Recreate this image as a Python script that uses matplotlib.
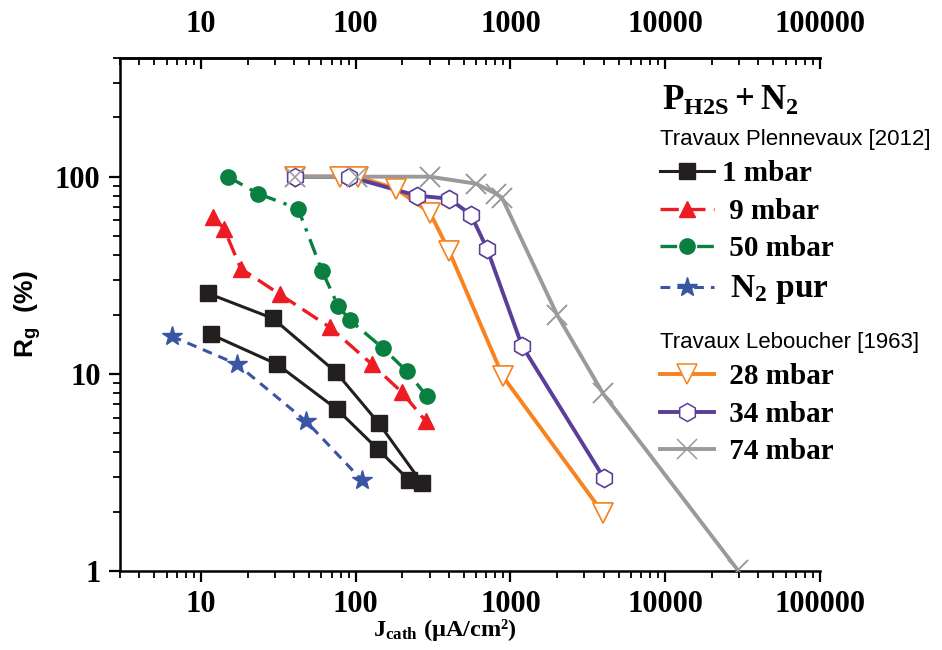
import matplotlib
matplotlib.use('Agg')
import matplotlib.pyplot as plt
from matplotlib.font_manager import FontProperties
from matplotlib.ticker import FixedLocator, FuncFormatter, LogLocator, NullFormatter

plt.rcParams['mathtext.fontset'] = 'custom'
plt.rcParams['mathtext.rm'] = 'Liberation Serif:bold'
plt.rcParams['mathtext.bf'] = 'Liberation Serif:bold'
plt.rcParams['mathtext.it'] = 'Liberation Serif:bold'

# ---- data (J_cath in uA/cm2, Rg in %) ----
j_1mbar_a = [11.1, 29.2, 74.6, 141, 268]
rg_1mbar_a = [25.6, 19.1, 10.2, 5.62, 2.79]
j_1mbar_b = [11.6, 31.0, 75.7, 139, 221]
rg_1mbar_b = [15.85, 11.2, 6.61, 4.15, 2.89]
j_9 = [12.0, 14.1, 18.1, 32.4, 68.3, 127, 199, 284]
rg_9 = [62.7, 54.5, 34.2, 25.3, 17.2, 11.2, 8.06, 5.75]
j_50 = [14.95, 23.4, 42.4, 60.5, 76.8, 91.9, 150, 214, 289]
rg_50 = [100, 82, 68.9, 33.4, 22.2, 18.7, 13.5, 10.3, 7.69]
j_n2 = [6.5, 17.1, 47.8, 109.6]
rg_n2 = [15.5, 11.2, 5.75, 2.89]
j_28 = [40.5, 79.1, 103, 182, 302, 400, 893, 3955]
rg_28 = [100, 100, 100, 86.9, 65.7, 42.2, 9.71, 1.97]
j_34 = [40.5, 90.4, 249, 400, 555, 705, 1186, 4018]
rg_34 = [100, 100, 80.1, 77.4, 64.2, 43.2, 13.9, 2.96]
j_74 = [40.5, 102, 302, 598, 805, 881, 1996, 3955, 29450]
rg_74 = [100, 100, 100, 92.2, 82, 78.3, 20, 7.97, 1.01]

x_ticks = [10, 100, 1000, 10000, 100000]
y_ticks = [1, 10, 100]

labels_plen = ['1 mbar', ' 9 mbar', ' 50 mbar', r' $\mathbf{N_2}$ pur']
labels_leb = [' 28 mbar', ' 34 mbar', ' 74 mbar']

c_black = '#231f20'
c_red = '#ed1c24'
c_green = '#0a8040'
c_blue = '#3a55a4'
c_orange = '#f7821e'
c_purple = '#5b3e99'
c_gray = '#9a9a9a'

fig = plt.figure(figsize=(9.42, 6.5), dpi=100)
ax = fig.add_axes([120/942, 79/650, 700/942, 513/650])

# Leboucher series (lines + markers, then marker overlays on top)
l28, = ax.plot(j_28, rg_28, color=c_orange, lw=2.8, marker='v', ms=14,
               mfc='white', mec=c_orange, mew=1.1, zorder=2.0)
l34, = ax.plot(j_34, rg_34, color=c_purple, lw=2.8, marker='h', ms=13,
               mfc='white', mec=c_purple, mew=1.1, zorder=2.1)
l74, = ax.plot(j_74, rg_74, color=c_gray, lw=2.8, marker='x', ms=14,
               mec=c_gray, mew=1.1, zorder=2.2)
ax.plot(j_28, rg_28, ls='none', marker='v', ms=14, mfc='white', mec=c_orange, mew=1.1, zorder=3.0)
ax.plot(j_34, rg_34, ls='none', marker='h', ms=13, mfc='white', mec=c_purple, mew=1.1, zorder=3.1)
ax.plot(j_74, rg_74, ls='none', marker='x', ms=14, mec=c_gray, mew=1.1, zorder=3.2)

# Plennevaux series
l1, = ax.plot(j_1mbar_a, rg_1mbar_a, color=c_black, lw=2.2, marker='s', ms=11,
              mfc=c_black, mec=c_black, zorder=4)
ax.plot(j_1mbar_b, rg_1mbar_b, color=c_black, lw=2.2, marker='s', ms=11,
        mfc=c_black, mec=c_black, zorder=4)
l9, = ax.plot(j_9, rg_9, color=c_red, lw=2.4, ls=(0, (5.5, 2.5)), marker='^', ms=12,
              mfc=c_red, mec=c_red, zorder=4)
l50, = ax.plot(j_50, rg_50, color=c_green, lw=2.4, ls=(0, (5, 2.5, 1, 2.5)), marker='o', ms=11,
               mfc=c_green, mec=c_green, zorder=4)
ln2, = ax.plot(j_n2, rg_n2, color=c_blue, lw=2.2, ls=(0, (3.2, 2.3)), marker='*', ms=15,
               mfc=c_blue, mec=c_blue, zorder=4)

ax.set_xscale('log')
ax.set_yscale('log')
ax.set_xlim(3, 100000)
ax.set_ylim(1, 400)

tick_font = dict(family='Liberation Serif', weight='bold', size=22)
fmt = FuncFormatter(lambda v, p: '%d' % round(v))

ax.xaxis.set_major_locator(FixedLocator(x_ticks))
ax.xaxis.set_major_formatter(fmt)
ax.xaxis.set_minor_locator(LogLocator(base=10, subs=range(2, 10), numticks=20))
ax.xaxis.set_minor_formatter(NullFormatter())
ax.yaxis.set_major_locator(FixedLocator(y_ticks))
ax.yaxis.set_major_formatter(fmt)
ax.yaxis.set_minor_locator(LogLocator(base=10, subs=range(2, 10), numticks=20))
ax.yaxis.set_minor_formatter(NullFormatter())

ax.tick_params(which='major', direction='out', length=8, width=1.6, top=False, right=False, pad=6)
ax.tick_params(which='minor', direction='out', length=5, width=1.3, top=False, right=False)
for lab in ax.get_xticklabels() + ax.get_yticklabels():
    lab.set_fontproperties(FontProperties(**tick_font))

for s in ['left', 'bottom', 'top']:
    ax.spines[s].set_linewidth(1.8)
ax.spines['right'].set_visible(False)

sec = ax.secondary_xaxis('top')
sec.xaxis.set_major_locator(FixedLocator(x_ticks))
sec.xaxis.set_major_formatter(fmt)
sec.xaxis.set_minor_locator(LogLocator(base=10, subs=range(2, 10), numticks=20))
sec.xaxis.set_minor_formatter(NullFormatter())
sec.tick_params(which='major', direction='in', length=8, width=1.6, pad=14)
sec.tick_params(which='minor', direction='in', length=5, width=1.3)
sec.spines['top'].set_linewidth(1.8)
for lab in sec.get_xticklabels():
    lab.set_fontproperties(FontProperties(**tick_font))

ax.set_xlabel(r'$\mathbf{J_{cath}}$ (µA/cm²)', fontfamily='Liberation Serif',
              fontweight='bold', fontsize=17.5, labelpad=2)
ax.xaxis.set_label_coords(0.464, -0.09)
ax.set_ylabel(r'R$_\mathregular{g}$  (%)', fontfamily='Liberation Sans',
              fontweight='bold', fontsize=19, labelpad=8)

# header
ax.text(0.774, 0.899, r'$\mathbf{P_{H2S} + N_2}$', transform=ax.transAxes,
        fontsize=25, va='baseline', ha='left')

entry_font = FontProperties(family='Liberation Serif', weight='bold', size=21)
head_font = FontProperties(family='Liberation Sans', size=16)

leg1 = ax.legend([l1, l9, l50, ln2], labels_plen, loc='upper left',
                 bbox_to_anchor=(0.771, 0.862), frameon=False, prop=entry_font,
                 title='Travaux Plennevaux [2012]', title_fontproperties=head_font,
                 alignment='left', borderpad=0, borderaxespad=0, labelspacing=0.36,
                 handlelength=1.85, handletextpad=0.3, numpoints=1)
leg1.get_texts()[3].set_fontsize(24)
ax.add_artist(leg1)
leg2 = ax.legend([l28, l34, l74], labels_leb, loc='upper left',
                 bbox_to_anchor=(0.771, 0.466), frameon=False, prop=entry_font,
                 title='Travaux Leboucher [1963]', title_fontproperties=head_font,
                 alignment='left', borderpad=0, borderaxespad=0, labelspacing=0.36,
                 handlelength=1.85, handletextpad=0.3, numpoints=1)

fig.savefig('out.png', dpi=100)
